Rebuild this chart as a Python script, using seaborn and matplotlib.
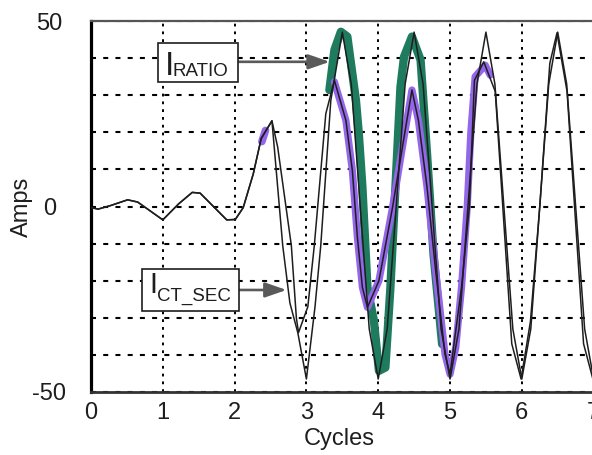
import numpy as np
import pandas as pd
import seaborn as sns
import matplotlib.pyplot as plt
from matplotlib.patches import Rectangle

# values (cycles, amps)
ratio_cycles = [0.0, 0.1, 0.28, 0.51, 0.65, 1.0, 1.22, 1.41, 1.52, 1.89, 2.01, 2.12, 2.26, 2.37,
                2.52, 2.67, 2.77, 2.88, 3.0, 3.12, 3.2, 3.34, 3.5,
                3.625, 3.75, 3.875, 4.0, 4.125, 4.25, 4.375, 4.5,
                4.625, 4.75, 4.875, 5.0, 5.125, 5.25, 5.375, 5.5,
                5.625, 5.75, 5.875, 6.0, 6.125, 6.25, 6.375, 6.5,
                6.625, 6.75, 6.875, 7.0, 7.125, 7.25, 7.375, 7.5, 7.625]
ratio_amps = [-0.3, -0.7, 0.3, 1.8, 1.2, -3.6, 0.7, 3.8, 3.6, -3.6, -3.5, -0.3, 8.8, 18.3,
              23.1, -10.5, -26, -34, -46.5, -27, -10.5, 28.6, 47,
              33, 0, -33, -46.5, -33, 0, 33, 47,
              33, 0, -33, -46.5, -33, 0, 33, 47,
              33, 0, -33, -46.5, -33, 0, 33, 47,
              33, 0, -33, -46.5, -33, 0, 33, 47, 33]

ctsec_cycles = [0.0, 0.1, 0.28, 0.51, 0.65, 1.0, 1.22, 1.41, 1.52, 1.89, 2.01, 2.12, 2.26, 2.37,
                2.52, 2.60, 2.79, 2.86, 2.89, 3.02, 3.11, 3.27, 3.39,
                3.55, 3.64, 3.71, 3.78, 3.85, 4.01, 4.20, 4.36, 4.47,
                4.56, 4.68, 4.80, 4.93, 5.0, 5.16, 5.27, 5.34, 5.47,
                5.63, 5.86, 5.99, 6.12, 6.25, 6.39, 6.49,
                6.63, 6.86, 6.99, 7.12, 7.25, 7.39, 7.49, 7.63]
ctsec_amps = [-0.3, -0.7, 0.3, 1.8, 1.2, -3.6, 0.7, 3.8, 3.6, -3.6, -3.5, -0.3, 8.8, 18.3,
              23.1, 16, -10.5, -30, -34, -27, -10.5, 25, 34,
              23.2, 9.7, -8.3, -21.8, -27.2, -20, -0.2, 18.7, 31.4,
              23.2, 5.2, -17.3, -39.8, -45.2, -21.8, 0, 34, 39,
              31, -37, -46.5, -31, 0, 38.6, 46.8,
              31, -37, -46.5, -31, 0, 38.6, 46.8, 31]

# hand-drawn highlight strokes
green_cycles = [3.32, 3.39, 3.48, 3.57, 3.69, 3.73, 3.78, 3.85, 3.94, 4.01, 4.10, 4.17,
                4.24, 4.31, 4.36, 4.47, 4.59, 4.68, 4.77, 4.89]
green_amps = [31.4, 42.2, 47.1, 45.8, 28.6, 19.6, 5.2, -21.8, -30.8, -44.3, -43.4, -21.8,
              5.2, 32.2, 40.4, 45.8, 39.5, 14.2, -12.8, -37.1]

purple_cycles = [3.39, 3.55, 3.64, 3.71, 3.78, 3.85, 4.01, 4.20, 4.36, 4.47, 4.56, 4.68,
                 4.80, 4.93, 5.0, 5.08, 5.16, 5.24, 5.29, 5.35, 5.49, 5.56]
purple_amps = [33.6, 23.2, 9.7, -8.3, -21.8, -27.2, -20, -0.2, 18.7, 31.4, 23.2, 5.2,
               -17.3, -39.8, -45.2, -38, -21.8, 0, 20, 35, 38.1, 35.4]

purple_dot_cycles = [2.38, 2.43]
purple_dot_amps = [17.5, 20.5]

x_ticks = [0, 1, 2, 3, 4, 5, 6, 7]
y_ticks = [-50, -40, -30, -20, -10, 0, 10, 20, 30, 40, 50]
y_tick_labels = ["-50", "", "", "", "", "0", "", "", "", "", "50"]

GREEN = "#1f7b5e"
PURPLE = "#9466ea"
INK = "#1e1e1e"

sns.set_theme(style="white")
plt.rcParams["font.family"] = ["Liberation Sans", "DejaVu Sans"]
plt.rcParams["lines.scale_dashes"] = False

fig = plt.figure(figsize=(5.92, 4.55), dpi=100)
ax = fig.add_axes([91 / 592, 63 / 455, 545.7 / 592, 371 / 455])

ratio_df = pd.DataFrame({"cycles": ratio_cycles, "amps": ratio_amps})
ctsec_df = pd.DataFrame({"cycles": ctsec_cycles, "amps": ctsec_amps})
green_df = pd.DataFrame({"cycles": green_cycles, "amps": green_amps})
purple_df = pd.DataFrame({"cycles": purple_cycles, "amps": purple_amps})
dot_df = pd.DataFrame({"cycles": purple_dot_cycles, "amps": purple_dot_amps})

for df, col, lw in [(green_df, GREEN, 6.0), (purple_df, PURPLE, 5.2), (dot_df, PURPLE, 5.5)]:
    sns.lineplot(data=df, x="cycles", y="amps", ax=ax, color=col, linewidth=lw,
                 sort=False, estimator=None, zorder=2)
for ln in ax.lines:
    ln.set_solid_capstyle("round")
    ln.set_solid_joinstyle("round")

sns.lineplot(data=ratio_df, x="cycles", y="amps", ax=ax, color=INK, linewidth=1.1,
             sort=False, estimator=None, zorder=3)
sns.lineplot(data=ctsec_df, x="cycles", y="amps", ax=ax, color=INK, linewidth=1.1,
             sort=False, estimator=None, zorder=3)

ax.set_xlim(0, 7.6)
ax.set_ylim(-50, 50)
ax.set_xticks(x_ticks)
ax.set_yticks(y_ticks)
ax.set_yticklabels(y_tick_labels)

# grid: dotted verticals, dashed horizontals
ax.set_axisbelow(True)
ax.xaxis.grid(True, color="black", linewidth=1.4, linestyle=(0, (2.0, 3.6)))
ax.yaxis.grid(True, color="black", linewidth=1.5, linestyle=(0, (3.6, 5.2)))

ax.tick_params(axis="both", length=0, labelsize=17, labelcolor=INK)
ax.tick_params(axis="x", pad=7)
ax.tick_params(axis="y", pad=30)
for lab in ax.get_yticklabels():
    lab.set_horizontalalignment("center")

ax.spines["left"].set_color("black")
ax.spines["left"].set_linewidth(2.3)
ax.spines["bottom"].set_color("#333333")
ax.spines["bottom"].set_linewidth(2.0)
ax.spines["top"].set_color("#555555")
ax.spines["top"].set_linewidth(1.6)
ax.spines["right"].set_visible(False)

ax.set_xlabel("Cycles", fontsize=17, color=INK)
ax.set_ylabel("Amps", fontsize=17, color=INK)
ax.xaxis.set_label_coords(0.4545, -0.098)
ax.yaxis.set_label_coords(-0.106, 0.5)

# label boxes
ax.add_patch(Rectangle((0.930, 33.56), 1.115, 10.51, facecolor="white",
                       edgecolor=INK, linewidth=1.2, zorder=5))
ax.text(1.029, 35.44, "I", fontsize=24, color=INK, ha="left", va="baseline", zorder=6)
ax.text(1.14, 35.18, "RATIO", fontsize=13.5, color=INK, ha="left", va="baseline", zorder=6)

ax.add_patch(Rectangle((0.708, -28.17), 1.351, 11.32, facecolor="white",
                       edgecolor=INK, linewidth=1.2, zorder=5))
ax.text(0.819, -23.3, "I", fontsize=21, color=INK, ha="left", va="baseline", zorder=6)
ax.text(0.925, -25.3, "CT_SEC", fontsize=13.5, color=INK, ha="left", va="baseline", zorder=6)

arrow_kw = dict(arrowstyle="-|>,head_length=1.3,head_width=0.45", color="#5a5a5a",
                lw=1.9, shrinkA=0, shrinkB=0, mutation_scale=10)
ax.annotate("", xy=(3.325, 39.0), xytext=(2.045, 39.0), arrowprops=arrow_kw, zorder=4)
ax.annotate("", xy=(2.723, -22.5), xytext=(2.059, -22.5), arrowprops=arrow_kw, zorder=4)

fig.savefig("out.png", dpi=100)
